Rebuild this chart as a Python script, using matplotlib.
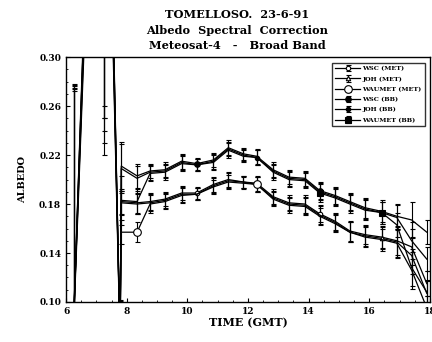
import matplotlib
matplotlib.use("Agg")
import matplotlib.pyplot as plt
import numpy as np
from matplotlib.ticker import MultipleLocator, FormatStrFormatter

# time (GMT) of every Meteosat slot
times = [6.25, 6.75, 7.25, 7.45, 7.78, 7.82, 8.34, 8.77, 9.26, 9.81, 10.31, 10.86, 11.35,
         11.85, 12.29, 12.83, 13.35, 13.88, 14.37, 14.87, 15.36, 15.86, 16.41, 16.91, 17.40, 17.90]

wsc_met = [0.086, 0.42, 0.48, 0.42, 0.07, 0.182, 0.181, 0.182, 0.184, 0.189, 0.189, 0.196, 0.200,
           0.198, 0.197, 0.186, 0.181, 0.180, 0.172, 0.166, 0.158, 0.155, 0.153, 0.150, 0.145, 0.115]
joh_met = [0.084, 0.43, 0.49, 0.43, 0.068, 0.181, 0.180, 0.181, 0.183, 0.188, 0.188, 0.195, 0.199,
           0.198, 0.196, 0.185, 0.180, 0.179, 0.171, 0.165, 0.157, 0.154, 0.152, 0.149, 0.138, 0.107]
waumet_met = [0.082, 0.41, 0.47, 0.41, 0.066, 0.157, 0.157, 0.180, 0.182, 0.187, 0.188, 0.194, 0.198,
              0.197, 0.196, 0.184, 0.179, 0.178, 0.170, 0.164, 0.157, 0.153, 0.151, 0.148, 0.126, 0.095]
wsc_bb = [0.088, 0.44, 0.50, 0.44, 0.072, 0.211, 0.203, 0.207, 0.208, 0.215, 0.213, 0.216, 0.226,
          0.221, 0.219, 0.208, 0.202, 0.201, 0.191, 0.187, 0.182, 0.177, 0.174, 0.170, 0.167, 0.157]
joh_bb = [0.087, 0.45, 0.51, 0.45, 0.071, 0.209, 0.201, 0.206, 0.207, 0.214, 0.212, 0.215, 0.225,
          0.220, 0.218, 0.207, 0.201, 0.200, 0.190, 0.186, 0.181, 0.176, 0.173, 0.169, 0.150, 0.135]
waumet_bb = [0.085, 0.44, 0.50, 0.44, 0.069, 0.183, 0.182, 0.205, 0.206, 0.213, 0.212, 0.214, 0.224,
             0.219, 0.218, 0.206, 0.200, 0.199, 0.189, 0.185, 0.180, 0.175, 0.173, 0.163, 0.128, 0.108]

# error bar half-widths
err_met = [0.19, 0.05, 0.25, 0.05, 0.03, 0.010, 0.008, 0.007, 0.006, 0.006, 0.005, 0.006, 0.006,
           0.005, 0.006, 0.006, 0.006, 0.007, 0.007, 0.007, 0.008, 0.008, 0.009, 0.012, 0.015, 0.010]
err_bb = [0.19, 0.05, 0.25, 0.05, 0.03, 0.020, 0.010, 0.006, 0.006, 0.006, 0.005, 0.006, 0.006,
          0.005, 0.006, 0.006, 0.006, 0.006, 0.007, 0.007, 0.007, 0.008, 0.009, 0.010, 0.015, 0.010]

labels = ["WSC (MET)", "JOH (MET)", "WAUMET (MET)", "WSC (BB)", "JOH (BB)", "WAUMET (BB)"]
series = [wsc_met, joh_met, waumet_met, wsc_bb, joh_bb, waumet_bb]
errors = [err_met, err_met, err_met, err_bb, err_bb, err_bb]

styles = [
    dict(marker="o", ms=3.2, mfc="white", markevery=[10, 18]),
    dict(marker="^", ms=3.2, mfc="white", markevery=[14, 22]),
    dict(marker="o", ms=5.5, mfc="white", markevery=[6, 14]),
    dict(marker="o", ms=4, mfc="black", markevery=[10, 18]),
    dict(marker="o", ms=3.2, mfc="black", markevery=[14]),
    dict(marker="s", ms=4.5, mfc="black", markevery=[18, 22]),
]

plt.rcParams["font.family"] = ["DejaVu Serif"]
plt.rcParams["font.weight"] = "bold"

fig = plt.figure(figsize=(4.32, 3.42), dpi=100)
ax = fig.add_axes([0.153, 0.117, 0.842, 0.716])

t = np.array(times)
for y, e, lab, st in zip(series, errors, labels, styles):
    ax.errorbar(t, y, yerr=e, color="black", lw=0.9, elinewidth=0.8, capsize=1.8, capthick=0.8,
                mec="black", mew=0.8, label=lab, **st)

ax.set_xlim(6, 18)
ax.set_ylim(0.10, 0.30)
ax.set_xticks([6, 8, 10, 12, 14, 16, 18])
ax.set_yticks([0.10, 0.14, 0.18, 0.22, 0.26, 0.30])
ax.yaxis.set_major_formatter(FormatStrFormatter("%.2f"))
ax.xaxis.set_minor_locator(MultipleLocator(0.5))
ax.yaxis.set_minor_locator(MultipleLocator(0.01))
ax.tick_params(direction="in", labelsize=6.5, length=3, width=0.8)
ax.tick_params(which="minor", direction="in", length=1.5, width=0.6)
for s in ax.spines.values():
    s.set_linewidth(1.0)
ax.spines["top"].set_linestyle((0, (4, 1)))
ax.spines["right"].set_linestyle((0, (4, 1)))

ax.set_xlabel("TIME (GMT)", fontsize=8, fontweight="bold", labelpad=1)
ax.set_ylabel("ALBEDO", fontsize=7, fontweight="bold", labelpad=9)

fig.text(0.549, 0.958, "TOMELLOSO.  23-6-91", ha="center", va="center", fontsize=8.2, fontweight="bold")
fig.text(0.549, 0.912, "Albedo  Spectral  Correction", ha="center", va="center", fontsize=8.2, fontweight="bold")
fig.text(0.549, 0.868, "Meteosat-4   -   Broad Band", ha="center", va="center", fontsize=8.2, fontweight="bold")

leg = ax.legend(loc="upper right", fontsize=4.6, frameon=True, fancybox=False, edgecolor="black",
                handlelength=4.0, labelspacing=0.75, borderpad=0.5, handletextpad=0.3,
                bbox_to_anchor=(0.995, 0.99))
leg.get_frame().set_linewidth(1.0)

fig.savefig("out.png", dpi=100, facecolor="white")
